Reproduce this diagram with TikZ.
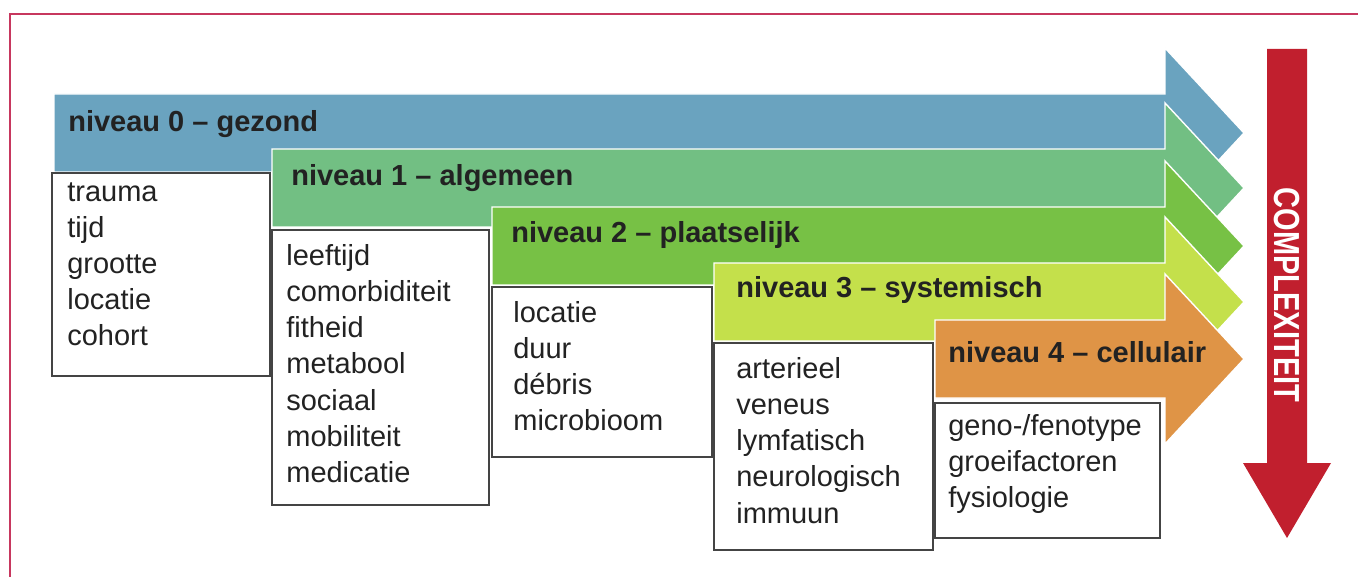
\documentclass[tikz,border=0pt]{standalone}
\usepackage{fontspec}
\setmainfont{Liberation Sans}
\usepackage{tikz}
\usetikzlibrary{positioning}
\definecolor{frame}{HTML}{C7375E}
\definecolor{ink}{HTML}{222222}
\definecolor{boxline}{HTML}{444444}
\definecolor{lvlzero}{HTML}{6AA3BF}
\definecolor{lvlone}{HTML}{72BF83}
\definecolor{lvltwo}{HTML}{77C145}
\definecolor{lvlthree}{HTML}{C4E04B}
\definecolor{lvlfour}{HTML}{DF9446}
\definecolor{complex}{HTML}{C11F2E}
% #1 left x, #2 top y, #3 colour
\newcommand{\levelarrow}[3]{%
  \filldraw[fill=#3, draw=white, line width=0.8pt]
    (#1,#2) -- (1165,#2) -- (1165,{#2-46}) -- (1244,{#2+39})
    -- (1165,{#2+124}) -- (1165,{#2+78}) -- (#1,{#2+78}) -- cycle;}

\begin{document}
\begin{tikzpicture}[
  x=0.02cm, y=-0.02cm,
  lvltitle/.style={anchor=west, inner sep=0pt, text=ink, font=\bfseries\fontsize{16.5}{20}\selectfont},
  lvllist/.style={anchor=north west, inner sep=0pt, align=left, text=ink, font=\fontsize{16.5}{20.6}\selectfont},
  lvlbox/.style={draw=boxline, fill=white, line width=1pt}
]
\useasboundingbox (0,0) rectangle (1358,577);
\draw[frame, line width=1.1pt] (1358,14) -- (10,14) -- (10,577);

% niveau 0
\levelarrow{54}{94}{lvlzero}
\node[lvltitle] (title0) at (68,124) {niveau 0 -- gezond};
\draw[lvlbox] (52,173) rectangle (270,376);
\node[lvllist] (list0) at (67,182) {trauma\\tijd\\grootte\\locatie\\cohort};

% niveau 1
\levelarrow{272}{149}{lvlone}
\node[lvltitle] (title1) at (291,178) {niveau 1 -- algemeen};
\draw[lvlbox] (272,230) rectangle (489,505);
\node[lvllist] (list1) at (286,244) {leeftijd\\comorbiditeit\\fitheid\\metabool\\sociaal\\mobiliteit\\medicatie};

% niveau 2
\levelarrow{492}{207}{lvltwo}
\node[lvltitle] (title2) at (511,235) {niveau 2 -- plaatselijk};
\draw[lvlbox] (492,287) rectangle (712,457);
\node[lvllist] (list2) at (513,301) {locatie\\duur\\débris\\microbioom};

% niveau 3
\levelarrow{714}{263}{lvlthree}
\node[lvltitle] (title3) at (736,290) {niveau 3 -- systemisch};
\draw[lvlbox] (714,343) rectangle (933,550);
\node[lvllist] (list3) at (736,357) {arterieel\\veneus\\lymfatisch\\neurologisch\\immuun};

% niveau 4
\levelarrow{935}{320}{lvlfour}
\node[lvltitle] (title4) at (948,352) {niveau 4 -- cellulair};
\draw[lvlbox] (935,403) rectangle (1160,538);
\node[lvllist] (list4) at (948,414) {geno-/fenotype\\groeifactoren\\fysiologie};

% complexiteit
\fill[complex] (1267,49) -- (1307,49) -- (1307,463) -- (1331,463) -- (1287,538)
  -- (1243,463) -- (1267,463) -- cycle;
\node[rotate=-90, inner sep=0pt, text=white, font=\bfseries\fontsize{16.5}{20}\selectfont]
  (complexity) at (1287,295) {\scalebox{1}[1.25]{COMPLEXITEIT}};
\end{tikzpicture}
\end{document}
